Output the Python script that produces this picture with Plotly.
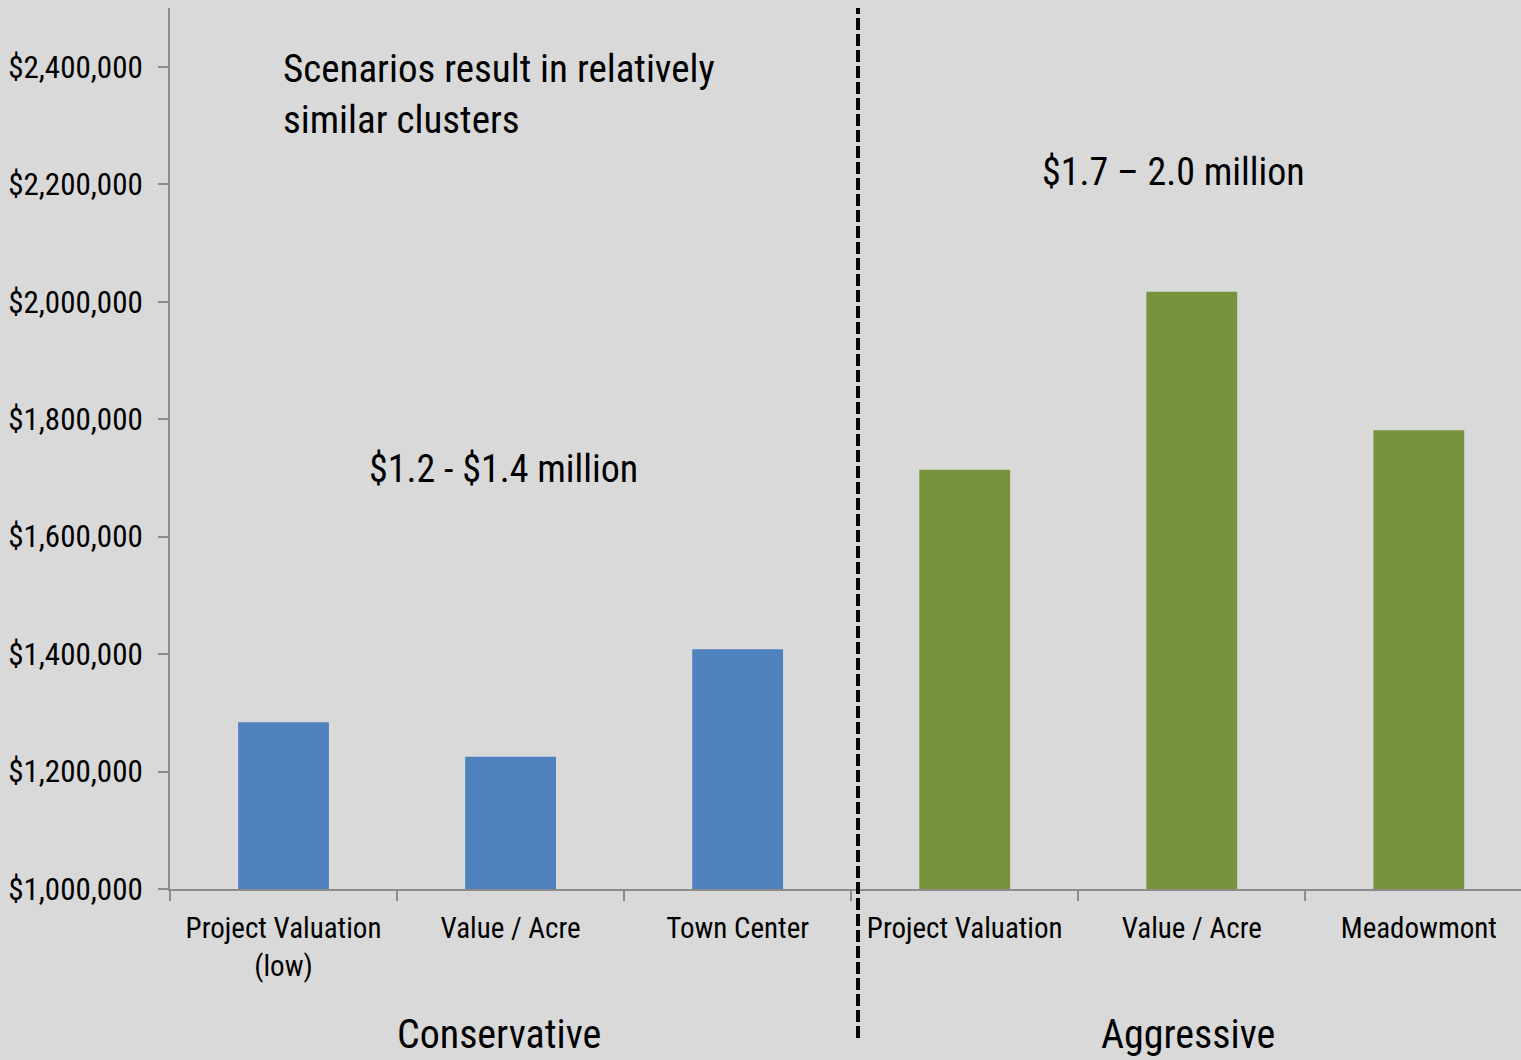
import plotly.graph_objects as go

# Scenario categories and their estimated values
groups = ["Conservative", "Aggressive"]
scenarios = ["Project Valuation<br>(low)", "Value / Acre", "Town Center",
             "Project Valuation", "Value / Acre", "Meadowmont"]
values = [1284000, 1225000, 1408000, 1714000, 2017000, 1781000]
bar_colors = ["#4f81bd", "#4f81bd", "#4f81bd", "#77933c", "#77933c", "#77933c"]
y_ticks = [1000000, 1200000, 1400000, 1600000, 1800000, 2000000, 2200000, 2400000]

FONT = "Roboto Condensed, Liberation Sans Narrow, Arial Narrow, sans-serif"
BG = "#d9d9d9"
AXIS = "#8c8c8c"

positions = list(range(len(values)))

fig = go.Figure(
    go.Bar(
        x=positions,
        y=values,
        marker=dict(color=bar_colors, line=dict(width=0)),
        width=0.4,
        hoverinfo="skip",
    )
)

fig.update_layout(
    width=1521,
    height=1060,
    margin=dict(l=170, r=0, t=8, b=171),
    paper_bgcolor=BG,
    plot_bgcolor=BG,
    showlegend=False,
    font=dict(family=FONT, color="#000000"),
    xaxis=dict(
        range=[-0.5, 5.45],
        tickmode="array",
        tickvals=positions,
        ticktext=scenarios,
        ticks="",
        showgrid=False,
        zeroline=False,
        showline=True,
        linecolor=AXIS,
        linewidth=2,
        tickfont=dict(size=29, family=FONT),
        ticklabelstandoff=12,
        automargin=False,
        minor=dict(
            tickmode="array",
            tickvals=[p - 0.5 for p in positions],
            ticks="outside",
            ticklen=10,
            tickwidth=2,
            tickcolor=AXIS,
            showgrid=False,
        ),
        fixedrange=True,
    ),
    yaxis=dict(
        range=[1000000, 2500000],
        tickmode="array",
        tickvals=y_ticks,
        tickformat="$,.0f",
        ticks="outside",
        ticklen=10,
        tickwidth=2,
        tickcolor=AXIS,
        showgrid=False,
        zeroline=False,
        showline=True,
        linecolor=AXIS,
        linewidth=2,
        tickfont=dict(size=31, family=FONT),
        ticklabelstandoff=9,
        automargin=False,
        fixedrange=True,
    ),
)

# Divider between the two scenario groups
fig.add_shape(
    type="line",
    xref="x", yref="paper",
    x0=2.53, x1=2.53, y0=-0.169, y1=1.0,
    line=dict(color="#000000", width=4, dash="12px,4px"),
)

# Group labels under the category labels
for name, center in zip(groups, [0.95, 3.982]):
    fig.add_annotation(
        x=center, xref="x", y=-0.165, yref="paper",
        text=name, showarrow=False, yanchor="middle",
        font=dict(size=40, family=FONT),
    )

fig.add_annotation(
    x=-0.01, xref="x", xanchor="left", y=2352000, yref="y", yanchor="middle",
    text="Scenarios result in relatively<br>similar clusters",
    showarrow=False, align="left",
    font=dict(size=39, family=FONT),
)
fig.add_annotation(
    x=0.97, xref="x", y=1715000, yref="y",
    text="$1.2 - $1.4 million", showarrow=False,
    font=dict(size=38, family=FONT),
)
fig.add_annotation(
    x=3.92, xref="x", y=2220000, yref="y",
    text="$1.7 \u2013 2.0 million", showarrow=False,
    font=dict(size=38, family=FONT),
)

fig.write_html("out.html")
